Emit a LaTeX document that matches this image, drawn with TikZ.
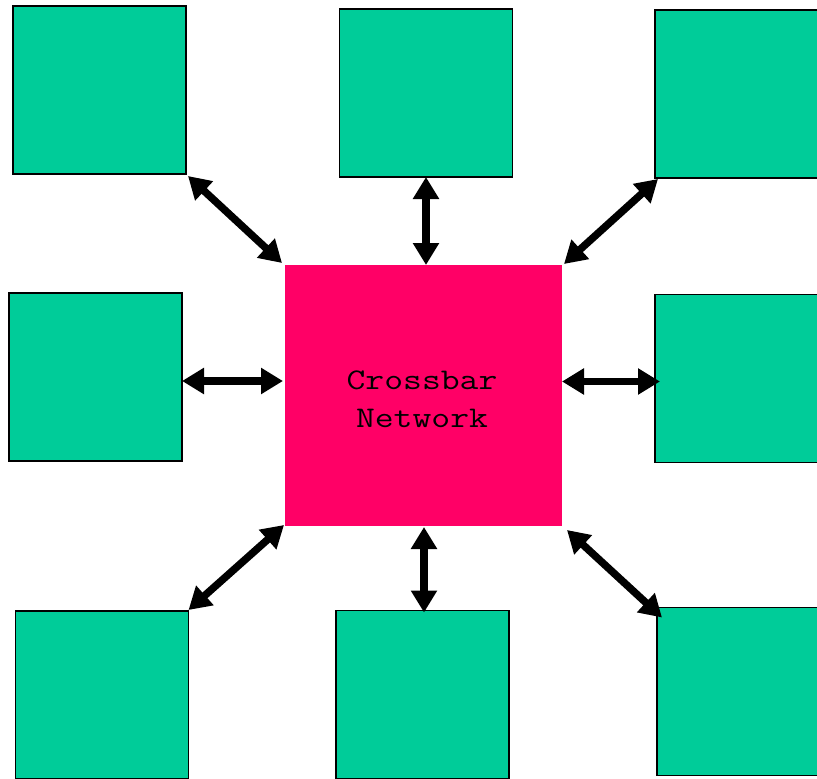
\documentclass[tikz,border=0pt]{standalone}
\usepackage{fontspec}
\newfontfamily\netfont[FakeStretch=1.22]{Latin Modern Mono}
\usetikzlibrary{arrows.meta,calc}
\definecolor{boxgreen}{HTML}{00CC99}
\definecolor{netpink}{HTML}{FF0066}
\tikzset{
  unitbox/.style={draw=black, line width=1.3pt, fill=boxgreen, minimum width=173pt, minimum height=168pt, inner sep=0pt, outer sep=0pt},
  netbox/.style={fill=netpink, minimum width=277pt, minimum height=261pt, inner sep=0pt, outer sep=0pt},
  nettext/.style={align=center, inner sep=0pt, font=\netfont\fontsize{30}{38}\selectfont},
  link/.style={line width=7.5pt, {Triangle[length=22pt,width=25pt]}-{Triangle[length=22pt,width=25pt]}, shorten <=0pt, shorten >=0pt}
}
\begin{document}
\begin{tikzpicture}[x=1pt,y=-1pt]
\useasboundingbox (0,0) rectangle (817,779);
\node[netbox] (C) at (423.5,395.5) {};
\node[nettext] (CT) at (422,399) {Crossbar\\Network};
\node[unitbox] (TL) at (99.5,90) {};
\node[unitbox] (TC) at (426,93) {};
\node[unitbox] (TR) at (741.5,94) {};
\node[unitbox] (ML) at (95.5,377) {};
\node[unitbox] (MR) at (741.5,378.5) {};
\node[unitbox] (BL) at (102,695) {};
\node[unitbox] (BC) at (422.5,694.5) {};
\node[unitbox] (BR) at (743.5,691.5) {};
\draw[link] ($(TL.south east)+(2,2)$) -- ($(C.north west)+(-3,-2)$);
\draw[link] (TC.south) -- (TC.south |- C.north);
\draw[link] ($(TR.south west)+(3,1)$) -- ($(C.north east)+(2,-1)$);
\draw[link] ($(ML.east)+(0,4)$) -- ($(C.west |- ML.east)+(-2,4)$);
\draw[link] ($(C.east |- MR.west)+(0,3)$) -- ($(MR.west)+(5,3)$);
\draw[link] ($(BL.north east)+(0,-1)$) -- ($(C.south west)+(-1,-1)$);
\draw[link] ($(BC.north)+(1.5,2)$) -- ($(BC.north |- C.south)+(1.5,1)$);
\draw[link] ($(C.south east)+(5,4)$) -- ($(BR.north west)+(5,10)$);
\end{tikzpicture}
\end{document}
